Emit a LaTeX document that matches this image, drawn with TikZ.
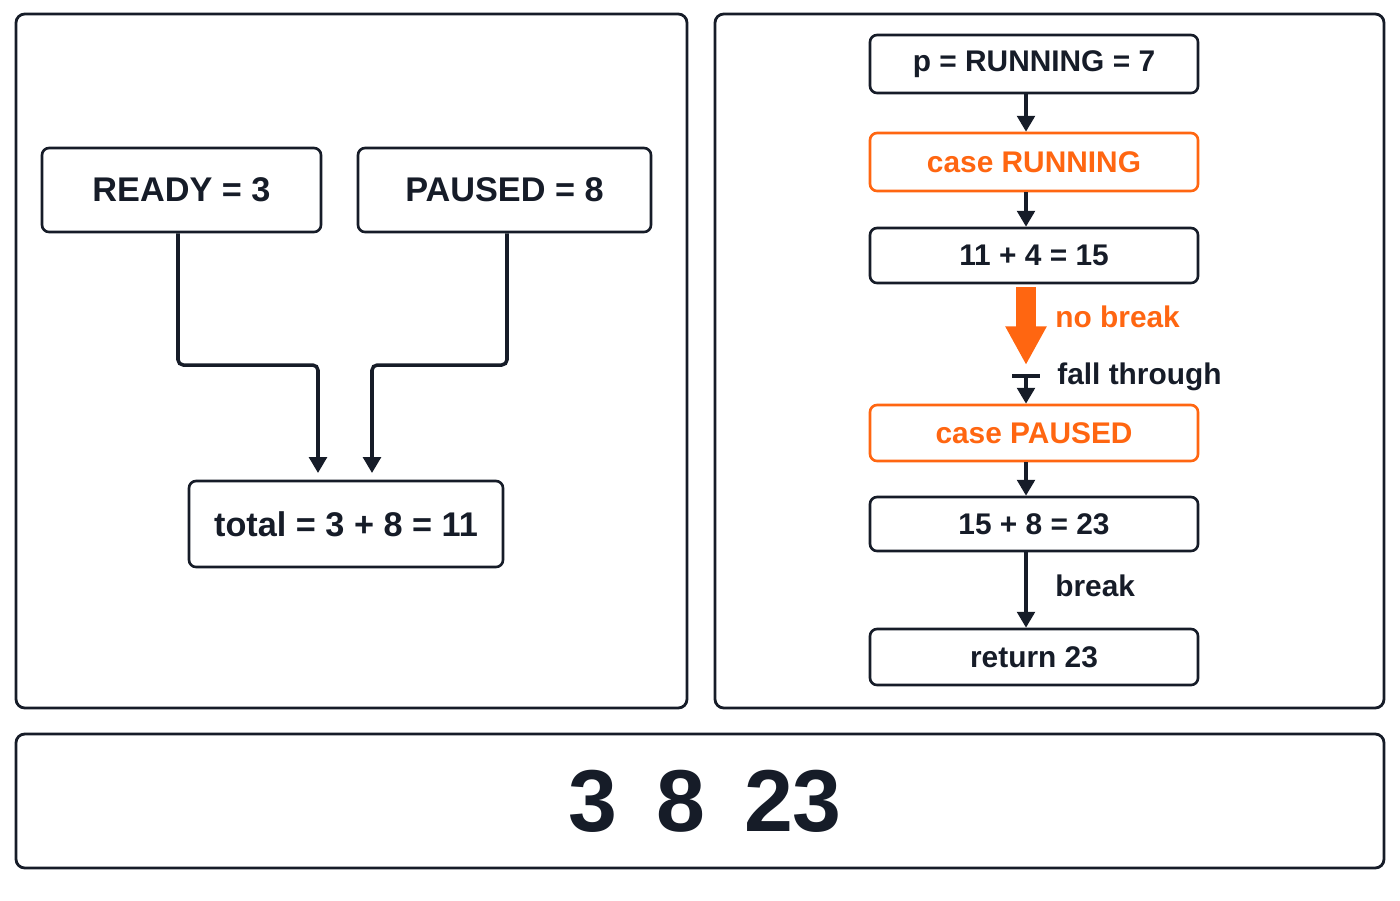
\documentclass[tikz,border=0pt]{standalone}
\usepackage{fontspec}
\setmainfont{Liberation Sans}
\usetikzlibrary{positioning, arrows.meta, calc}
\definecolor{Ink}{RGB}{22, 28, 40}
\definecolor{Flame}{RGB}{255, 102, 17}

\begin{document}
\begin{tikzpicture}[
        x=0.02cm, y=-0.02cm,
        panel/.style={draw=Ink, line width=1.6pt, rounded corners=5pt},
        valbox/.style={draw=Ink, line width=1.5pt, rounded corners=4pt, font=\fontsize{19.5}{23}\selectfont\bfseries, text=Ink},
        stepbox/.style={draw=Ink, line width=1.5pt, rounded corners=4pt, minimum width=328*0.02cm, font=\fontsize{17}{20}\selectfont\bfseries, text=Ink},
        casebox/.style={stepbox, draw=Flame, text=Flame},
        link/.style={draw=Ink, line width=2pt, -{Triangle[length=9pt, width=10pt]}, rounded corners=3pt},
        note/.style={font=\fontsize{17}{20}\selectfont\bfseries, text=Ink, anchor=west, inner sep=0}
    ]
        \useasboundingbox (0,0) rectangle (1400,900);
        % Panels
        \draw[panel] (16,14) rectangle (687,708);
        \draw[panel] (715,14) rectangle (1384,708);
        \draw[panel] (16,734) rectangle (1384,868);

        % Left panel: two values summed
        \node[valbox, minimum width=279*0.02cm, minimum height=84*0.02cm] (ready) at (181.5,190) {READY = 3};
        \node[valbox, minimum width=293*0.02cm, minimum height=84*0.02cm] (paused) at (504.5,190) {PAUSED = 8};
        \node[valbox, minimum width=314*0.02cm, minimum height=86*0.02cm] (total) at (346,524) {total = 3 + 8 = 11};
        \draw[link] (ready.south -| 178,0) |- (318,365) -- (318,473);
        \draw[link] (paused.south -| 507,0) |- (372,365) -- (372,473);

        % Right panel: switch flow
        \node[stepbox, minimum height=58*0.02cm] (sel) at (1034,64) {p = RUNNING = 7};
        \node[casebox, minimum height=58*0.02cm] (caserun) at (1034,162) {case RUNNING};
        \node[stepbox, minimum height=55*0.02cm] (sumA) at (1034,255.5) {11 + 4 = 15};
        \node[casebox, minimum height=56*0.02cm] (casepause) at (1034,433) {case PAUSED};
        \node[stepbox, minimum height=54*0.02cm] (sumB) at (1034,524) {15 + 8 = 23};
        \node[stepbox, minimum height=56*0.02cm] (ret) at (1034,657) {return 23};

        \draw[link] (sel.south -| 1026,0) -- (caserun.north -| 1026,0);
        \draw[link] (caserun.south -| 1026,0) -- (sumA.north -| 1026,0);
        \draw[Flame, line width=11pt, -{Triangle[length=22pt, width=22pt]}] (sumA.south -| 1026,0) ++(0,3) -- (1026,365);
        \coordinate (tee) at (1026,376);
        \draw[Ink, line width=2.5pt] ($(tee)+(-14,0)$) -- ($(tee)+(14,0)$);
        \draw[link] (tee) -- (casepause.north -| 1026,0);
        \draw[link] (casepause.south -| 1026,0) -- (sumB.north -| 1026,0);
        \draw[link] (sumB.south -| 1026,0) -- (ret.north -| 1026,0);
        \node[note, text=Flame] (nobrk) at (1055,317) {no break};
        \node[note] (fall) at (1057,377) {fall through};
        \node[note] (brk) at (1055,586) {break};

        % Output
        \node[font=\fontsize{50}{55}\selectfont\bfseries, text=Ink] (out) at (705,801) {3\, 8\, 23};
    \end{tikzpicture}
\end{document}
